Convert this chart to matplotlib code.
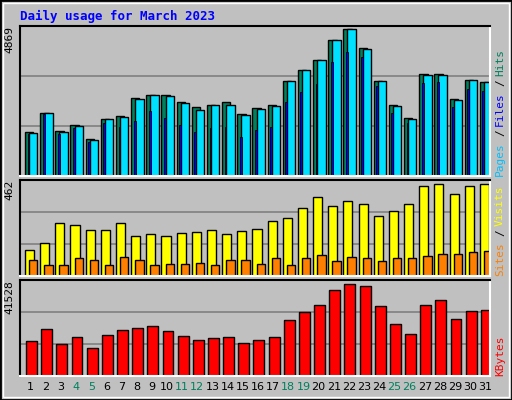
import matplotlib.pyplot as plt
from matplotlib.patches import Rectangle

# Daily usage, March 2023
days = list(range(1, 32))
weekend = [4, 5, 11, 12, 18, 19, 25, 26]

hits = [1428, 2045, 1461, 1656, 1201, 1850, 1948, 2532, 2629, 2629, 2402, 2240, 2305, 2402, 2013, 2207,
        2305, 3084, 3441, 3765, 4415, 4772, 4155, 3084, 2305, 1883, 3311, 3311, 2500, 3116, 3051]
files = [1400, 2045, 1430, 1625, 1170, 1850, 1915, 2500, 2629, 2590, 2370, 2140, 2305, 2305, 1980, 2175,
         2270, 3084, 3441, 3765, 4415, 4772, 4120, 3084, 2270, 1850, 3280, 3280, 2470, 3116, 3051]
pages = [1363, 2013, 1363, 1558, 1104, 1720, 1591, 1785, 2110, 1883, 1656, 1428, 1558, 1591, 1266, 1493,
         1591, 2402, 2727, 2986, 3700, 4025, 3863, 2921, 2045, 1720, 3019, 3051, 2240, 2824, 2759]
visits = [125, 158, 254, 245, 221, 221, 254, 192, 201, 192, 206, 211, 221, 201, 216, 225,
          264, 278, 326, 379, 336, 360, 345, 288, 312, 345, 432, 441, 393, 432, 441]
sites = [77, 53, 53, 86, 77, 53, 91, 77, 53, 58, 58, 62, 53, 77, 77, 58,
         86, 53, 86, 101, 72, 91, 86, 72, 86, 86, 96, 106, 106, 115, 120]
kbytes = [14956, 20183, 13649, 16698, 11906, 17569, 19748, 20619, 21490, 19312, 17134, 15391, 16262, 16698,
          14085, 15391, 16698, 24103, 27588, 30637, 37171, 39785, 38914, 30201, 22361, 18005, 30637, 32815,
          24539, 28024, 28459]

bg = '#c0c0c0'
green = '#00805c'
mono = 'DejaVu Sans Mono'

fig = plt.figure(figsize=(5.12, 4.0), dpi=100, facecolor=bg)
fig.patches.append(Rectangle((0, 0), 1, 1, transform=fig.transFigure, fill=False,
                             edgecolor='black', linewidth=2))
fig.patches.append(Rectangle((0.006, 0.008), 0.988, 0.984, transform=fig.transFigure, fill=False,
                             edgecolor='white', linewidth=1))

W, H = 512, 400


def make_axes(top, bottom, ymax):
    ax = fig.add_axes([20 / W, 1 - bottom / H, 470 / W, (bottom - top) / H])
    ax.set_facecolor(bg)
    ax.set_xlim(0, 31)
    ax.set_ylim(0, ymax)
    for y in (ymax / 3, 2 * ymax / 3):
        ax.axhline(y, color='#808080', linewidth=1.2, zorder=0)
    ax.set_xticks([])
    ax.set_yticks([])
    for s in ax.spines.values():
        s.set_linewidth(1.5)
    ax.spines['right'].set_color('white')
    ax.spines['bottom'].set_color('white')
    ax.text(-0.012, 1.0, str(ymax), transform=ax.transAxes, rotation=90, ha='right', va='top',
            fontsize=8, family=mono)
    return ax


edge = dict(edgecolor='black', linewidth=1)
x0 = [d - 1 for d in days]

ax1 = make_axes(26, 176, 4869)
ax1.bar([x + 0.33 for x in x0], hits, width=0.55, align='edge', color=green, **edge)
ax1.bar([x + 0.6 for x in x0], files, width=0.55, align='edge', color='#00e0ff', **edge)
ax1.bar([x + 0.5 for x in x0], pages, width=0.12, align='edge', color='#0000ff', edgecolor='black', linewidth=0.6)

ax2 = make_axes(180, 276, 462)
ax2.bar([x + 0.33 for x in x0], visits, width=0.6, align='edge', color='#ffff00', **edge)
ax2.bar([x + 0.6 for x in x0], sites, width=0.55, align='edge', color='#ff8000', **edge)

ax3 = make_axes(280, 376, 41528)
ax3.bar([x + 0.4 for x in x0], kbytes, width=0.72, align='edge', color='#ff0000', **edge)
for d in days:
    ax3.text(d - 0.5 + 0.2, -0.06, str(d), transform=ax3.get_xaxis_transform(), ha='center', va='top',
             fontsize=8, color=green if d in weekend else 'black')

fig.text(20 / W, 1 - 16 / H, 'Daily usage for March 2023', color='#0000ff', fontsize=9,
         fontweight='bold', family=mono, va='center')

# right side legends (vertical, reading upward)
def rlabel(y, s, c):
    fig.text(500 / W, 1 - y / H, s, color=c, rotation=90, fontsize=8, family=mono, ha='center', va='bottom')

rlabel(176, 'Pages', '#00c0ff')
rlabel(136, '/', 'black')
rlabel(126, 'Files', '#0000ff')
rlabel(86, '/', 'black')
rlabel(76, 'Hits', green)
rlabel(276, 'Sites', '#ff8000')
rlabel(236, '/', 'black')
rlabel(226, 'Visits', '#ffff00')
rlabel(376, 'KBytes', '#ff0000')

fig.savefig('out.png', dpi=100, facecolor=bg)
